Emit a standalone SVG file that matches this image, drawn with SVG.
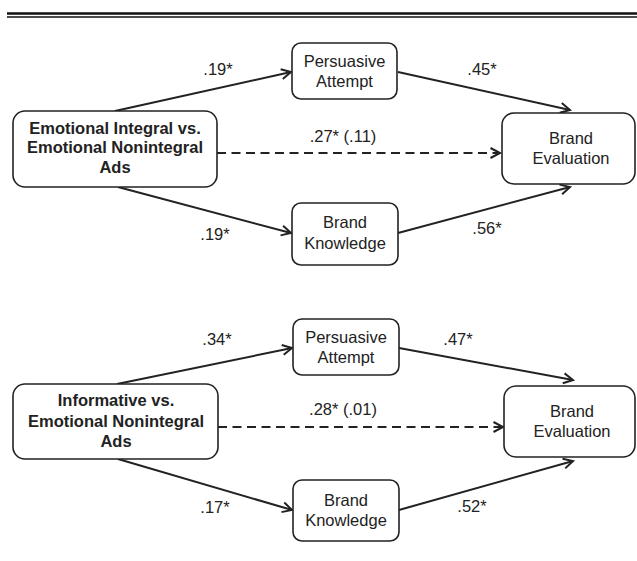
<svg xmlns="http://www.w3.org/2000/svg" width="637" height="561" viewBox="0 0 637 561">
<style>
.node rect{fill:#fff;stroke:#222;stroke-width:1.6}
text{font-family:"Liberation Sans",Arial,sans-serif;font-size:16.5px;fill:#222;text-anchor:middle}
.b{font-weight:bold}
.c line{stroke:#222;stroke-width:2;fill:none}
.c .d{stroke-dasharray:9 5.5}
</style>
<defs>
<marker id="ah" markerUnits="userSpaceOnUse" markerWidth="14" markerHeight="14" refX="10.5" refY="7" orient="auto">
<path d="M1,2 L10.5,7 L1,12" fill="none" stroke="#222" stroke-width="2"/>
</marker>
</defs>
<rect width="637" height="561" fill="#fff"/>
<line x1="7" y1="13.5" x2="637" y2="13.5" stroke="#111" stroke-width="2.4"/>
<line x1="7" y1="17" x2="637" y2="17" stroke="#111" stroke-width="1.3"/>

<g class="c">
<line x1="115" y1="111" x2="291" y2="72" marker-end="url(#ah)"/>
<line x1="118" y1="187" x2="291" y2="233" marker-end="url(#ah)"/>
<line x1="398" y1="72" x2="570" y2="110" marker-end="url(#ah)"/>
<line x1="398" y1="233" x2="570" y2="187" marker-end="url(#ah)"/>
<line class="d" x1="217" y1="153" x2="500" y2="153" marker-end="url(#ah)"/>
<line x1="117" y1="384" x2="292" y2="348" marker-end="url(#ah)"/>
<line x1="118" y1="459" x2="292" y2="510" marker-end="url(#ah)"/>
<line x1="399" y1="348" x2="573" y2="380" marker-end="url(#ah)"/>
<line x1="399" y1="510" x2="573" y2="461" marker-end="url(#ah)"/>
<line class="d" x1="218" y1="427" x2="503" y2="427" marker-end="url(#ah)"/>
<text x="218" y="75">.19*</text>
<text x="215" y="240">.19*</text>
<text x="343" y="142">.27* (.11)</text>
<text x="482" y="75">.45*</text>
<text x="487" y="234">.56*</text>
<text x="217" y="345">.34*</text>
<text x="215" y="513">.17*</text>
<text x="343" y="415">.28* (.01)</text>
<text x="458" y="345">.47*</text>
<text x="472" y="512">.52*</text>
</g>

<g id="src1" class="node">
<rect x="13" y="111" width="204" height="76" rx="12"/>
<text class="b" x="115" y="134">Emotional Integral vs.</text>
<text class="b" x="115" y="153">Emotional Nonintegral</text>
<text class="b" x="115" y="173">Ads</text>
</g>
<g id="pa1" class="node">
<rect x="292" y="43" width="105" height="56" rx="9"/>
<text x="344.5" y="67">Persuasive</text>
<text x="344.5" y="87">Attempt</text>
</g>
<g id="bk1" class="node">
<rect x="292" y="203" width="106" height="62" rx="9"/>
<text x="345" y="228">Brand</text>
<text x="345" y="249">Knowledge</text>
</g>
<g id="be1" class="node">
<rect x="502" y="113" width="133" height="71" rx="12"/>
<text x="571" y="144">Brand</text>
<text x="571" y="164">Evaluation</text>
</g>

<g id="src2" class="node">
<rect x="13" y="384" width="205" height="75" rx="12"/>
<text class="b" x="116" y="406">Informative vs.</text>
<text class="b" x="116" y="427">Emotional Nonintegral</text>
<text class="b" x="116" y="447">Ads</text>
</g>
<g id="pa2" class="node">
<rect x="293" y="319" width="106" height="56" rx="9"/>
<text x="346" y="343">Persuasive</text>
<text x="346" y="363">Attempt</text>
</g>
<g id="bk2" class="node">
<rect x="293" y="480" width="106" height="61" rx="9"/>
<text x="346" y="506">Brand</text>
<text x="346" y="526">Knowledge</text>
</g>
<g id="be2" class="node">
<rect x="504" y="386" width="131" height="71" rx="12"/>
<text x="572" y="417">Brand</text>
<text x="572" y="437">Evaluation</text>
</g>
</svg>
